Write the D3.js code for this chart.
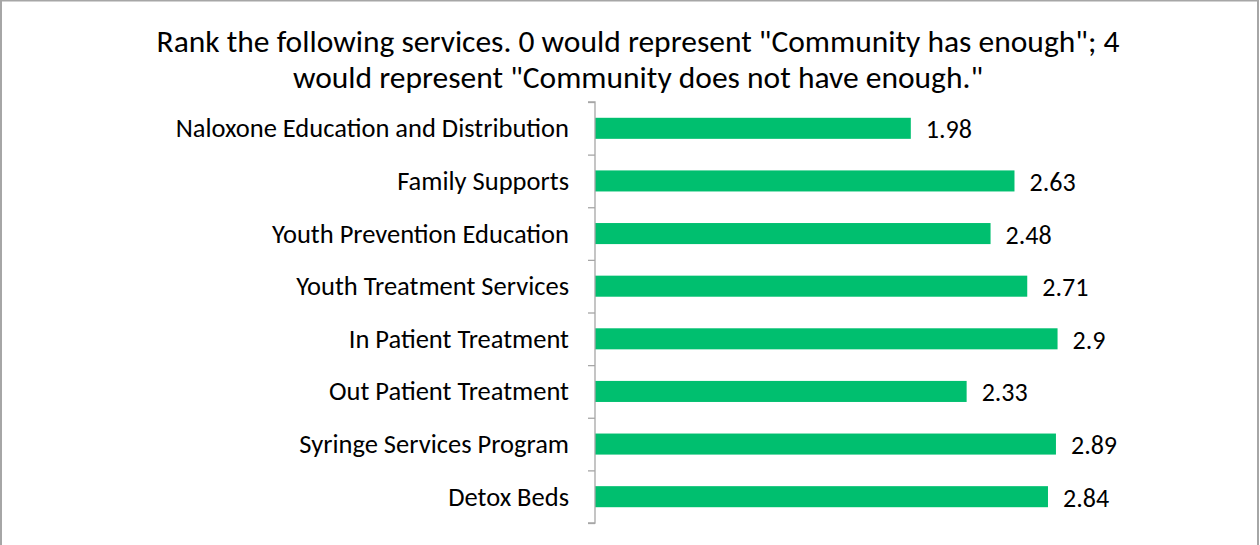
<!DOCTYPE html>
<html>
<head>
<meta charset="utf-8">
<script src="https://cdn.jsdelivr.net/npm/d3@7/dist/d3.min.js"></script>
<style>
  html, body { margin: 0; padding: 0; background: #fff; }
  svg { display: block; }
  text { font-family: Carlito, Calibri, Lato, "Open Sans", sans-serif; fill: #000; }
</style>
</head>
<body>
<svg id="chart" width="1260" height="545"></svg>
<script>
// Survey services, listed top to bottom
const categories = [
  "Naloxone Education and Distribution",
  "Family Supports",
  "Youth Prevention Education",
  "Youth Treatment Services",
  "In Patient Treatment",
  "Out Patient Treatment",
  "Syringe Services Program",
  "Detox Beds"
];
// Mean rank (0 = community has enough, 4 = does not have enough)
const values = [1.98, 2.63, 2.48, 2.71, 2.9, 2.33, 2.89, 2.84];
const valueLabels = ["1.98", "2.63", "2.48", "2.71", "2.9", "2.33", "2.89", "2.84"];
const titleLines = [
  "Rank the following services. 0 would represent \"Community has enough\"; 4",
  "would represent \"Community does not have enough.\""
];

const W = 1260, H = 545;
const svg = d3.select("#chart");

// outer frame
svg.append("rect")
  .attr("x", 1).attr("y", 0.5).attr("width", W - 3).attr("height", H + 5)
  .attr("fill", "none").attr("stroke", "#a6a6a6").attr("stroke-width", 2);

const plot = { left: 595, right: 1233, top: 102, bottom: 523 };

const x = d3.scaleLinear().domain([0, 4]).range([plot.left, plot.right]);
const y = d3.scaleBand().domain(categories)
  .range([plot.top, plot.bottom]).paddingInner(0.6).paddingOuter(0.3);

// title
svg.append("g").selectAll("text").data(titleLines).join("text")
  .attr("x", 638).attr("y", (d, i) => 52 + i * 36)
  .attr("text-anchor", "middle")
  .style("font-size", "31.5px")
  .text(d => d);

// bars
svg.append("g").selectAll("rect").data(values).join("rect")
  .attr("x", x(0))
  .attr("y", (d, i) => y(categories[i]))
  .attr("width", d => x(d) - x(0))
  .attr("height", y.bandwidth())
  .attr("fill", "#00BF6F");

// category axis with ticks at category boundaries
const yb = d3.scaleLinear().domain([0, categories.length]).range([plot.top, plot.bottom]);
const axis = svg.append("g")
  .attr("transform", `translate(${plot.left},0)`)
  .call(d3.axisLeft(yb).tickValues(d3.range(categories.length + 1)).tickSize(7).tickFormat(""));
axis.selectAll("path, line").attr("stroke", "#a6a6a6").attr("stroke-width", 1.3);
axis.select(".domain").attr("d", `M-7,${plot.top}H0V${plot.bottom}H-7`);

// category labels
svg.append("g").selectAll("text").data(categories).join("text")
  .attr("x", 569)
  .attr("y", d => y(d) + y.bandwidth() / 2 + 9)
  .attr("text-anchor", "end")
  .style("font-size", "26.5px")
  .text(d => d);

// value labels
svg.append("g").selectAll("text").data(values).join("text")
  .attr("x", d => x(d) + 15)
  .attr("y", (d, i) => y(categories[i]) + y.bandwidth() / 2 + 10)
  .style("font-size", "26px")
  .text((d, i) => valueLabels[i]);
</script>
</body>
</html>
